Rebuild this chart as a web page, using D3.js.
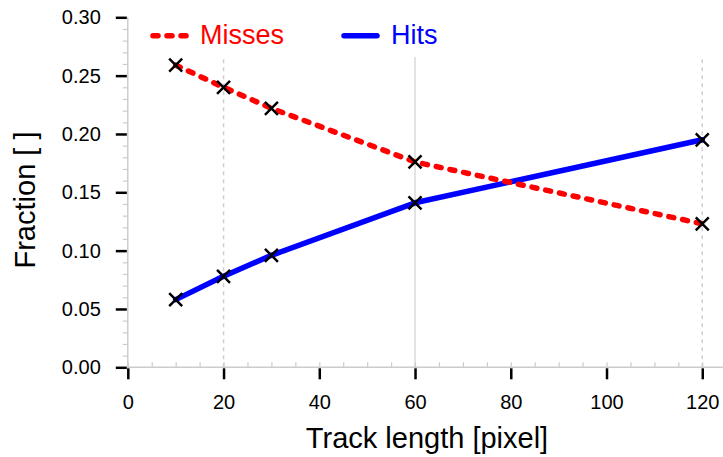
<!DOCTYPE html>
<html>
<head>
<meta charset="utf-8">
<script src="https://cdn.jsdelivr.net/npm/d3@7"></script>
<style>
body{margin:0;background:#fff}
svg{display:block;font-family:Arial,"Liberation Sans",Helvetica,sans-serif}
</style>
</head>
<body>
<script>
const trackLength=[10,20,30,60,120];
const misses=[0.259,0.240,0.222,0.176,0.123];
const hits=[0.058,0.078,0.096,0.141,0.195];
const xTicks=[0,20,40,60,80,100,120];
const yTicks=[0,0.05,0.10,0.15,0.20,0.25,0.30];
const gridLines=[{x:20,dash:"4,4"},{x:60,dash:null},{x:120,dash:"4,4"}];

const W=723,H=457,gridTop=57;
const FONT='Arial,"Liberation Sans",Helvetica,sans-serif';

const x=d3.scaleLinear().domain([0,125]).range([127.8,726.2]);
const y=d3.scaleLinear().domain([0,0.30]).range([367.3,17.3]);

const svg=d3.select("body").append("svg").attr("width",W).attr("height",H);

// grid
svg.append("g").selectAll("line").data(gridLines).enter().append("line")
 .attr("x1",d=>x(d.x)).attr("x2",d=>x(d.x))
 .attr("y1",y(0)).attr("y2",gridTop)
 .attr("stroke",d=>d.dash?"#d0d0d0":"#dadada")
 .attr("stroke-width",1.5)
 .attr("stroke-dasharray",d=>d.dash);

// minor ticks
svg.append("g").attr("transform",`translate(${x(0)},0)`)
 .call(d3.axisLeft(y).tickValues(d3.range(0,0.3001,0.01)).tickSize(5).tickFormat(""))
 .call(g=>g.select(".domain").remove())
 .call(g=>g.selectAll("line").attr("stroke","#ccc").attr("stroke-width",1.2));
svg.append("g").attr("transform",`translate(0,${y(0)})`)
 .call(d3.axisTop(x).tickValues(d3.range(0,126,5)).tickSize(5).tickFormat(""))
 .call(g=>g.select(".domain").remove())
 .call(g=>g.selectAll("line").attr("stroke","#ccc").attr("stroke-width",1.2));

// axis lines
svg.append("line").attr("x1",x(0)).attr("x2",x(0)).attr("y1",y(0.30)).attr("y2",y(0))
 .attr("stroke","#ccc").attr("stroke-width",1.5);
svg.append("line").attr("x1",x(0)).attr("x2",W).attr("y1",y(0)).attr("y2",y(0))
 .attr("stroke","#ccc").attr("stroke-width",1.5);

// major axes
const yAxis=svg.append("g").attr("transform",`translate(${x(0)-1},0)`)
 .call(d3.axisLeft(y).tickValues(yTicks).tickSize(11).tickPadding(15).tickFormat(d3.format(".2f")));
const xAxis=svg.append("g").attr("transform",`translate(0,${y(0)+1})`)
 .call(d3.axisBottom(x).tickValues(xTicks).tickSize(11).tickPadding(16).tickFormat(d3.format("d")));
[yAxis,xAxis].forEach(g=>{
 g.attr("font-family",FONT).attr("font-size",20);
 g.select(".domain").remove();
 g.selectAll("line").attr("stroke","#000").attr("stroke-width",2.5);
 g.selectAll("text").attr("fill","#000");
});

// axis titles
svg.append("text").attr("x",427).attr("y",448).attr("text-anchor","middle")
 .attr("font-family",FONT).attr("font-size",29).text("Track length [pixel]");
svg.append("text").attr("transform","translate(35,200) rotate(-90)").attr("text-anchor","middle")
 .attr("font-family",FONT).attr("font-size",29).text("Fraction [ ]");

// lines
const line=vals=>d3.line().x((d,i)=>x(trackLength[i])).y(d=>y(d))(vals);
svg.append("path").attr("d",line(hits)).attr("fill","none")
 .attr("stroke","#0000ff").attr("stroke-width",5.5)
 .attr("stroke-linecap","round").attr("stroke-linejoin","round");
svg.append("path").attr("d",line(misses)).attr("fill","none")
 .attr("stroke","#ff0000").attr("stroke-width",5.5)
 .attr("stroke-linecap","round").attr("stroke-linejoin","round")
 .attr("stroke-dasharray","5,9");

// markers
const cross=(cx,cy,r)=>`M${cx-r},${cy-r}L${cx+r},${cy+r}M${cx-r},${cy+r}L${cx+r},${cy-r}`;
[misses,hits].forEach(series=>{
 svg.append("g").selectAll("path").data(series).enter().append("path")
  .attr("d",(d,i)=>cross(x(trackLength[i]),y(d),6.5))
  .attr("stroke","#000").attr("stroke-width",2.5).attr("fill","none");
});

// legend
const legendItems=[{name:"Misses",color:"#ff0000",dash:"5,9",x0:150},{name:"Hits",color:"#0000ff",dash:null,x0:341}];
const lg=svg.append("g").selectAll("g").data(legendItems).enter().append("g");
lg.append("line").attr("x1",d=>d.x0+3).attr("x2",d=>d.x0+36).attr("y1",35.7).attr("y2",35.7)
 .attr("stroke",d=>d.color).attr("stroke-width",5.5).attr("stroke-linecap","round")
 .attr("stroke-dasharray",d=>d.dash);
lg.append("text").attr("x",d=>d.x0+50).attr("y",44).attr("fill",d=>d.color)
 .attr("font-family",FONT).attr("font-size",27).text(d=>d.name);
</script>
</body>
</html>
